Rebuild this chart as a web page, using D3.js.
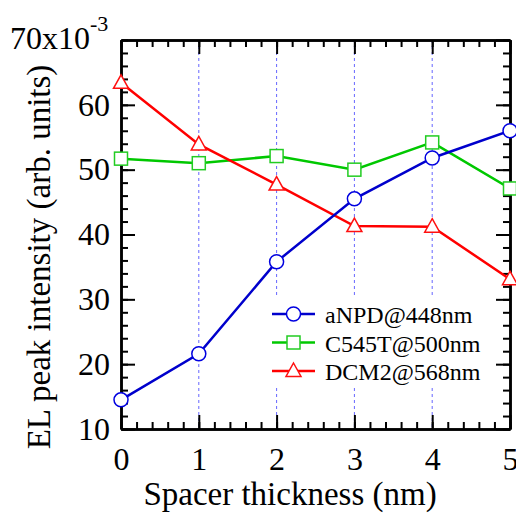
<!DOCTYPE html>
<html>
<head>
<meta charset="utf-8">
<script src="https://cdn.jsdelivr.net/npm/d3@7"></script>
<style>
  body { margin: 0; background: #fff; }
</style>
</head>
<body>
<svg id="chart" width="516" height="514" font-family="Liberation Serif"></svg>
<script>
// thickness of spacer (nm)
const thickness = [0, 1, 2, 3, 4, 5];
// EL peak intensity, x10^-3
const aNPD = [14.5, 21.6, 35.8, 45.5, 51.8, 56.0];
const C545T = [51.7, 51.0, 52.1, 50.0, 54.2, 47.1];
const DCM2 = [63.4, 53.9, 47.7, 41.3, 41.2, 33.1];
const seriesNames = ['aNPD@448nm', 'C545T@500nm', 'DCM2@568nm'];
const xMajor = [0, 1, 2, 3, 4, 5];
const yMajor = [10, 20, 30, 40, 50, 60, 70];
const gridX = [1, 2, 3, 4];

const FONT = 'Liberation Serif';
const svg = d3.select('#chart');
const plot = { left: 121, right: 510, top: 40, bottom: 429 };

const x = d3.scaleLinear().domain([0, 5]).range([plot.left, plot.right]);
const y = d3.scaleLinear().domain([10, 70]).range([plot.bottom, plot.top]);

const series = [
  { name: seriesNames[1], values: C545T, color: '#00c800', mark: '#22cc22', shape: 'square' },
  { name: seriesNames[2], values: DCM2, color: '#ff0000', mark: '#ff1010', shape: 'triangle' },
  { name: seriesNames[0], values: aNPD, color: '#0000cc', mark: '#0000e0', shape: 'circle' }
];

// dashed grid
svg.append('g').selectAll('line')
  .data(gridX).enter().append('line')
  .attr('x1', d => x(d)).attr('x2', d => x(d))
  .attr('y1', plot.top).attr('y2', plot.bottom)
  .attr('stroke', '#6666ff').attr('stroke-width', 1)
  .attr('stroke-dasharray', '3,3');

// legend background hides the grid
svg.append('rect')
  .attr('x', 262).attr('y', 297).attr('width', 240).attr('height', 89)
  .attr('fill', '#fff');

// axes, ticks pointing inside
const xMinor = d3.range(0, 5.001, 0.2);
const yMinor = d3.range(10, 70.001, 2);

function styleAxis(g) {
  g.select('.domain').attr('stroke-width', 2.5);
  g.selectAll('.tick line').attr('stroke-width', 2);
}
function styleLabels(g) {
  g.attr('font-family', FONT);
  g.selectAll('text').attr('font-size', 32).attr('fill', '#000')
    .attr('font-family', FONT);
}

svg.append('g').attr('transform', `translate(0,${plot.bottom})`)
  .call(d3.axisBottom(x).tickValues(xMinor).tickSize(-7).tickSizeOuter(0).tickFormat(''))
  .call(styleAxis);
svg.append('g').attr('transform', `translate(0,${plot.bottom})`)
  .call(d3.axisBottom(x).tickValues(xMajor).tickSize(-14).tickSizeOuter(0).tickPadding(18).tickFormat(d3.format('d')))
  .call(styleAxis).call(styleLabels);

svg.append('g').attr('transform', `translate(0,${plot.top})`)
  .call(d3.axisTop(x).tickValues(xMinor).tickSize(-7).tickSizeOuter(0).tickFormat(''))
  .call(styleAxis);
svg.append('g').attr('transform', `translate(0,${plot.top})`)
  .call(d3.axisTop(x).tickValues(xMajor).tickSize(-14).tickSizeOuter(0).tickFormat(''))
  .call(styleAxis);

svg.append('g').attr('transform', `translate(${plot.left},0)`)
  .call(d3.axisLeft(y).tickValues(yMinor).tickSize(-7).tickSizeOuter(0).tickFormat(''))
  .call(styleAxis);
svg.append('g').attr('transform', `translate(${plot.left},0)`)
  .call(d3.axisLeft(y).tickValues(yMajor.slice(0, -1)).tickSize(-14).tickSizeOuter(0).tickPadding(11).tickFormat(d3.format('d')))
  .call(styleAxis).call(styleLabels);

svg.append('g').attr('transform', `translate(${plot.right},0)`)
  .call(d3.axisRight(y).tickValues(yMinor).tickSize(-7).tickSizeOuter(0).tickFormat(''))
  .call(styleAxis);
svg.append('g').attr('transform', `translate(${plot.right},0)`)
  .call(d3.axisRight(y).tickValues(yMajor).tickSize(-14).tickSizeOuter(0).tickFormat(''))
  .call(styleAxis);

// top label 70x10^-3
const topLabel = svg.append('text')
  .attr('x', 10).attr('y', 49)
  .attr('font-family', FONT).attr('font-size', 32);
topLabel.append('tspan').text(yMajor[yMajor.length - 1] + 'x10');
topLabel.append('tspan').attr('dy', -18).attr('font-size', 22).text('-3');

// axis titles
svg.append('text')
  .attr('x', 290).attr('y', 505)
  .attr('text-anchor', 'middle').attr('font-family', FONT).attr('font-size', 33)
  .text('Spacer thickness (nm)');
svg.append('text')
  .attr('transform', 'translate(50,257) rotate(-90)')
  .attr('text-anchor', 'middle').attr('font-family', FONT).attr('font-size', 33)
  .text('EL peak intensity (arb. units)');

// markers
function drawMark(g, shape, cx, cy, color) {
  if (shape === 'circle') {
    g.append('circle').attr('cx', cx).attr('cy', cy).attr('r', 7)
      .attr('fill', '#fff').attr('stroke', color).attr('stroke-width', 1.5);
  } else if (shape === 'square') {
    g.append('rect').attr('x', cx - 6.5).attr('y', cy - 6.5).attr('width', 13).attr('height', 13)
      .attr('fill', '#fff').attr('stroke', color).attr('stroke-width', 1.5);
  } else {
    g.append('path')
      .attr('d', `M${cx},${cy - 8}L${cx + 7.5},${cy + 5.5}L${cx - 7.5},${cy + 5.5}Z`)
      .attr('fill', '#fff').attr('stroke', color).attr('stroke-width', 1.5);
  }
}

const line = d3.line().x((d, i) => x(thickness[i])).y(d => y(d));

series.forEach(s => {
  const g = svg.append('g');
  g.append('path').datum(s.values)
    .attr('d', line)
    .attr('fill', 'none').attr('stroke', s.color).attr('stroke-width', 2.5);
  s.values.forEach((v, i) => drawMark(g, s.shape, x(thickness[i]), y(v), s.mark));
});

// legend
const legendOrder = [series[2], series[0], series[1]];
const lg = svg.append('g');
legendOrder.forEach((s, i) => {
  const ly = 314 + i * 28.5;
  lg.append('line').attr('x1', 272).attr('x2', 315).attr('y1', ly).attr('y2', ly)
    .attr('stroke', s.color).attr('stroke-width', 2.5);
  drawMark(lg, s.shape, 293.5, ly, s.mark);
  lg.append('text').attr('x', 325).attr('y', ly + 9)
    .attr('font-family', FONT).attr('font-size', 24).text(s.name);
});
</script>
</body>
</html>
